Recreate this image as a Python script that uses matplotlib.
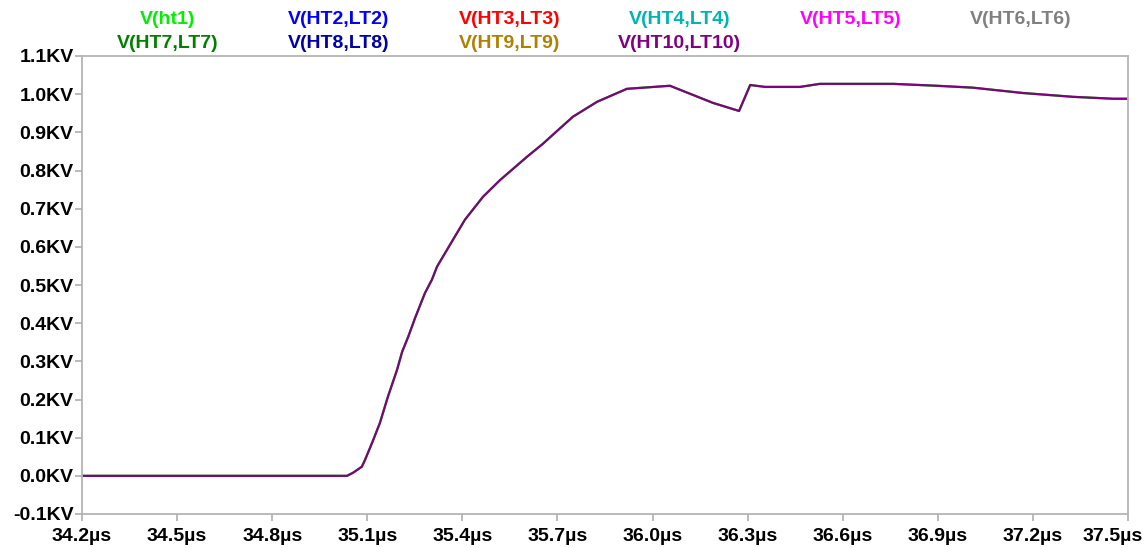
import matplotlib
matplotlib.use("Agg")
import matplotlib.pyplot as plt
import matplotlib.transforms as mtransforms

plt.rcParams['font.family'] = ['Liberation Sans', 'DejaVu Sans']

# waveform (time in us, voltage in kV)
t_us = [34.200, 35.036, 35.055, 35.083, 35.093, 35.115, 35.140, 35.165, 35.194,
        35.210, 35.229, 35.251, 35.282, 35.304, 35.320, 35.370, 35.408, 35.465,
        35.519, 35.604, 35.654, 35.702, 35.749, 35.825, 35.919, 36.055, 36.191,
        36.273, 36.308, 36.355, 36.465, 36.528, 36.759, 36.897, 37.011, 37.169,
        37.327, 37.453, 37.500]
v_kv = [0.000, 0.000, 0.008, 0.024, 0.042, 0.086, 0.139, 0.207, 0.278,
        0.325, 0.364, 0.414, 0.479, 0.514, 0.548, 0.618, 0.671, 0.731,
        0.775, 0.836, 0.870, 0.906, 0.941, 0.980, 1.014, 1.022, 0.977,
        0.956, 1.024, 1.019, 1.019, 1.027, 1.027, 1.022, 1.017, 1.003,
        0.993, 0.988, 0.988]

trace_names = ["V(ht1)", "V(HT2,LT2)", "V(HT3,LT3)", "V(HT4,LT4)", "V(HT5,LT5)",
               "V(HT6,LT6)", "V(HT7,LT7)", "V(HT8,LT8)", "V(HT9,LT9)", "V(HT10,LT10)"]
trace_colors = ["#00ee00", "#0000ff", "#ff0000", "#00b4b4", "#ff00ff",
                "#808080", "#008000", "#0000a8", "#b08000", "#800080"]

x_ticks = [34.2, 34.5, 34.8, 35.1, 35.4, 35.7, 36.0, 36.3, 36.6, 36.9, 37.2, 37.5]
y_ticks = [-0.1, 0.0, 0.1, 0.2, 0.3, 0.4, 0.5, 0.6, 0.7, 0.8, 0.9, 1.0, 1.1]

fig = plt.figure(figsize=(11.47, 5.48), dpi=100)
ax = fig.add_axes([82 / 1147, 1 - 514 / 548, (1128 - 82) / 1147, (514 - 56) / 548])

# all traces lie on top of each other; green first, purple last
ax.plot(t_us, v_kv, color=trace_colors[0], lw=1.6)
ax.plot(t_us, v_kv, color=trace_colors[-1], lw=1.6)

ax.set_xlim(34.2, 37.5)
ax.set_ylim(-0.1, 1.1)
ax.set_xticks(x_ticks)
ax.set_xticklabels([f"{v:.1f}µs" for v in x_ticks])
ax.set_yticks(y_ticks)
ax.set_yticklabels([f"{v:.1f}KV" for v in y_ticks])
for s in ax.spines.values():
    s.set_color('#b4b4b4')
    s.set_linewidth(1.3)
ax.tick_params(direction='out', length=5, width=1.3, color='#b4b4b4',
               labelsize=14, pad=1)
ax.tick_params(axis='x', pad=5)
for lab in ax.get_xticklabels() + ax.get_yticklabels():
    lab.set_fontweight('bold')

# last x label pushed left so it stays inside the picture
last = ax.get_xticklabels()[-1]
last.set_horizontalalignment('right')
last.set_transform(last.get_transform() +
                   mtransforms.ScaledTranslation(0.15, 0, fig.dpi_scale_trans))

# legend like LTspice trace names
for i, (name, col) in enumerate(zip(trace_names, trace_colors)):
    row, colno = divmod(i, 6)
    fig.text((168 + colno * 170.6) / 1147, 1 - (20 + row * 24) / 548, name,
             color=col, fontsize=14, fontweight='bold', ha='center', va='center')

fig.savefig("out.png", dpi=100)
